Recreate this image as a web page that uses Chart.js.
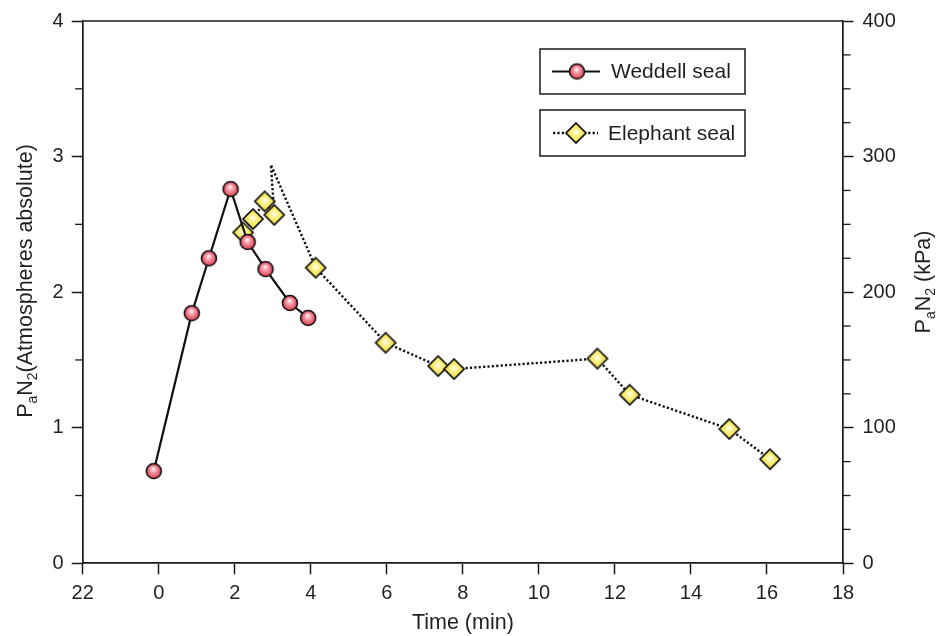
<!DOCTYPE html>
<html><head><meta charset="utf-8">
<script src="https://cdn.jsdelivr.net/npm/chart.js@4"></script>
<style>html,body{margin:0;padding:0;background:#fff}</style>
</head><body>
<canvas id="c" width="940" height="636"></canvas>
<script>
// ---------- data ----------
const xTickLabels = ['22','0','2','4','6','8','10','12','14','16','18'];
const seriesNames = ['Weddell seal', 'Elephant seal'];
const weddellTime = [-0.13, 0.87, 1.32, 1.89, 2.34, 2.81, 3.45, 3.93];
const weddellPN2  = [0.68, 1.845, 2.25, 2.76, 2.37, 2.17, 1.92, 1.81];
const elephantTime = [2.22, 2.48, 2.79, 3.04, 2.95, 4.13, 5.97, 7.35, 7.77, 11.54, 12.39, 15.01, 16.08];
const elephantPN2  = [2.44, 2.54, 2.67, 2.57, 2.94, 2.18, 1.627, 1.455, 1.433, 1.51, 1.243, 0.991, 0.768];
const elephantMarker = [1, 1, 1, 1, 0, 1, 1, 1, 1, 1, 1, 1, 1];
const xTitle = 'Time (min)';
const leftTitleParts  = [['P',0],['a',1],['N',0],['2',1],['(Atmospheres absolute)',0]];
const rightTitleParts = [['P',0],['a',1],['N',0],['2',1],[' (kPa)',0]];

// ---------- styles ----------
const FONT = '"Liberation Sans", Arial, Helvetica, sans-serif';
const TXT = '#231f20';
const AX = '#1a1a1a';

function makeCircle() {
  const s = 20, r = 7.5, c = document.createElement('canvas');
  c.width = s; c.height = s;
  const g = c.getContext('2d'), cx = s / 2, cy = s / 2;
  const gr = g.createRadialGradient(cx - 0.5, cy - 2.5, 0.3, cx, cy, r);
  gr.addColorStop(0, '#fff2f4');
  gr.addColorStop(0.45, '#f3909e');
  gr.addColorStop(1, '#de3e50');
  g.beginPath(); g.arc(cx, cy, r, 0, Math.PI * 2);
  g.fillStyle = gr; g.fill();
  g.lineWidth = 1.6; g.strokeStyle = '#111'; g.stroke();
  return c;
}
function makeDiamond() {
  const s = 24, h = 10, c = document.createElement('canvas');
  c.width = s; c.height = s;
  const g = c.getContext('2d'), cx = s / 2, cy = s / 2;
  const gr = g.createRadialGradient(cx, cy - 1, 0.3, cx, cy, h);
  gr.addColorStop(0, '#fffef0');
  gr.addColorStop(0.4, '#faef80');
  gr.addColorStop(1, '#ead632');
  g.beginPath();
  g.moveTo(cx, cy - h); g.lineTo(cx + h, cy); g.lineTo(cx, cy + h); g.lineTo(cx - h, cy); g.closePath();
  g.fillStyle = gr; g.fill();
  g.lineWidth = 1.7; g.strokeStyle = '#111'; g.lineJoin = 'miter'; g.stroke();
  return c;
}
const circleImg = makeCircle();
const diamondImg = makeDiamond();

const weddellData = weddellTime.map((t, i) => ({x: t, y: weddellPN2[i]}));
const elephantData = elephantTime.map((t, i) => ({x: t, y: elephantPN2[i]}));

function drawRich(ctx, parts, cx, cy, rot, size) {
  const MAIN = size + 'px ' + FONT, SUB = Math.round(size * 0.66) + 'px ' + FONT;
  ctx.save();
  ctx.translate(cx, cy); ctx.rotate(rot);
  let total = 0;
  const items = parts.map(([t, sub]) => { ctx.font = sub ? SUB : MAIN; const w = ctx.measureText(t).width; total += w; return {t, sub, w}; });
  let x = -total / 2;
  ctx.textBaseline = 'alphabetic'; ctx.textAlign = 'left'; ctx.fillStyle = TXT;
  items.forEach(it => { ctx.font = it.sub ? SUB : MAIN; ctx.fillText(it.t, x, it.sub ? 5 : 0); x += it.w; });
  ctx.restore();
}

const decorPlugin = {
  id: 'decor',
  afterDraw(chart) {
    const ctx = chart.ctx, a = chart.chartArea;
    const y = chart.scales.y, y2 = chart.scales.y2;
    ctx.save();
    ctx.strokeStyle = AX; ctx.lineWidth = 1.7;
    // top frame line
    ctx.beginPath(); ctx.moveTo(a.left, a.top); ctx.lineTo(a.right, a.top); ctx.stroke();
    // minor ticks
    ctx.lineWidth = 1.3;
    for (let v = y.min + 0.5; v < y.max; v += 1) {
      const p = y.getPixelForValue(v);
      ctx.beginPath(); ctx.moveTo(a.left, p); ctx.lineTo(a.left - 7.5, p); ctx.stroke();
    }
    for (let v = y2.min; v <= y2.max; v += 25) {
      if (v % 100 === 0) continue;
      const p = y2.getPixelForValue(v);
      ctx.beginPath(); ctx.moveTo(a.right, p); ctx.lineTo(a.right + 7.5, p); ctx.stroke();
    }
    ctx.restore();

    // axis titles with subscripts
    drawRich(ctx, leftTitleParts, 32, 281, -Math.PI / 2, 21.5);
    drawRich(ctx, rightTitleParts, 930, 282, -Math.PI / 2, 21.5);

    // legend boxes
    const ds = chart.data.datasets;
    const boxes = [
      {x: 540, y: 49, w: 205, h: 45, l0: 552, l1: 600, m: 577, tx: 611, img: circleImg, d: ds[0]},
      {x: 540, y: 110, w: 205, h: 46, l0: 553, l1: 598, m: 576, tx: 608, img: diamondImg, d: ds[1]}
    ];
    boxes.forEach(b => {
      ctx.save();
      ctx.fillStyle = '#fff';
      ctx.fillRect(b.x, b.y, b.w, b.h);
      ctx.strokeStyle = AX; ctx.lineWidth = 1.5;
      ctx.strokeRect(b.x, b.y, b.w, b.h);
      const cy = b.y + b.h / 2;
      ctx.strokeStyle = b.d.borderColor; ctx.lineWidth = b.d.borderWidth;
      ctx.setLineDash(b.d.borderDash || []);
      ctx.beginPath(); ctx.moveTo(b.l0, cy); ctx.lineTo(b.l1, cy); ctx.stroke();
      ctx.setLineDash([]);
      ctx.drawImage(b.img, b.m - b.img.width / 2, cy - b.img.height / 2);
      ctx.fillStyle = TXT; ctx.font = '21px ' + FONT;
      ctx.textBaseline = 'middle'; ctx.textAlign = 'left';
      ctx.fillText(b.d.label, b.tx, cy + 1);
      ctx.restore();
    });
  }
};

new Chart(document.getElementById('c'), {
  type: 'scatter',
  data: {
    datasets: [
      {
        label: seriesNames[0], data: weddellData, showLine: true,
        borderColor: '#111', borderWidth: 2.2, pointStyle: circleImg, pointRadius: 7,
        clip: false
      },
      {
        label: seriesNames[1], data: elephantData, showLine: true,
        borderColor: '#111', borderWidth: 2.4, borderDash: [2.2, 2.2],
        pointStyle: diamondImg,
        pointRadius: ctx => elephantMarker[ctx.dataIndex] ? 8 : 0,
        clip: false
      }
    ]
  },
  options: {
    responsive: false, animation: false, events: [],
    layout: {padding: {top: 16.5, left: 0, right: 0, bottom: 0}},
    plugins: {legend: {display: false}, tooltip: {enabled: false}},
    scales: {
      x: {
        type: 'linear', position: 'bottom', min: -2, max: 18,
        afterBuildTicks: s => { s.ticks = xTickLabels.map((_, i) => ({value: -2 + 2 * i})); },
        ticks: {
          callback: (v, i) => xTickLabels[i], color: TXT, padding: 7,
          font: {size: 20, family: FONT}, maxRotation: 0, autoSkip: false
        },
        grid: {drawOnChartArea: false, tickLength: 11, tickColor: AX, tickWidth: 1.5},
        border: {color: AX, width: 1.7},
        title: {display: true, text: xTitle, color: TXT, font: {size: 21.5, family: FONT}, padding: {top: 0, bottom: 0.5}},
        afterFit: s => { s.height = 72.7; }
      },
      y: {
        type: 'linear', position: 'left', min: 0, max: 4,
        ticks: {stepSize: 1, color: TXT, padding: 8, font: {size: 20, family: FONT}},
        grid: {drawOnChartArea: false, tickLength: 11, tickColor: AX, tickWidth: 1.5},
        border: {color: AX, width: 1.7},
        afterFit: s => { s.width = 82.7; }
      },
      y2: {
        type: 'linear', position: 'right', min: 0, max: 400,
        ticks: {stepSize: 100, color: TXT, padding: 9, font: {size: 20, family: FONT}},
        grid: {drawOnChartArea: false, tickLength: 10.5, tickColor: AX, tickWidth: 1.5},
        border: {color: AX, width: 1.7},
        afterFit: s => { s.width = 97; }
      }
    }
  },
  plugins: [decorPlugin]
});
</script>
</body></html>
